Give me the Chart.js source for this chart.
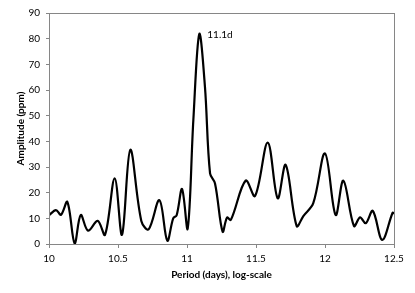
<!DOCTYPE html>
<html>
<head>
<meta charset="utf-8">
<script src="https://cdn.jsdelivr.net/npm/chart.js@4/dist/chart.umd.min.js"></script>
<style>
html,body{margin:0;padding:0;background:#fff;}
#wrap{width:415px;height:293px;position:relative;}
</style>
</head>
<body>
<div id="wrap"><canvas id="c" width="415" height="293"></canvas></div>
<script>
const periods = [10.000,10.050,10.087,10.133,10.186,10.230,10.283,10.353,10.406,10.476,10.529,10.589,10.669,10.722,10.800,10.857,10.900,10.925,10.964,11.005,11.046,11.089,11.130,11.167,11.203,11.258,11.290,11.318,11.425,11.493,11.585,11.657,11.715,11.795,11.843,11.915,12.000,12.077,12.133,12.210,12.254,12.295,12.346,12.415,12.490,12.500];
const amplitude = [11.2,13.2,11.4,16.4,0.2,11.3,5.2,9.0,3.6,25.6,3.6,36.7,9.0,5.7,17.1,1.3,10.0,11.2,21.4,6.0,48.3,81.8,61.3,27.5,23.6,4.8,10.3,9.4,24.7,18.7,39.5,17.8,30.8,7.0,10.9,15.9,35.3,11.3,24.7,7.0,10.4,8.1,12.9,1.6,12.2,11.8];
const peakLabel = "11.1d";
const peakIndex = 21;

const FONT = "Lato, 'Liberation Sans', sans-serif";
const GRAY = "#868686";

const frame = {
  id: 'frame',
  afterDatasetsDraw(chart) {
    const {ctx, chartArea: a} = chart;
    ctx.save();
    ctx.strokeStyle = GRAY;
    ctx.lineWidth = 1;
    ctx.strokeRect(Math.round(a.left)+0.5, Math.round(a.top)+0.5, Math.round(a.right-a.left), Math.round(a.bottom-a.top));
    const x = chart.scales.x.getPixelForValue(periods[peakIndex]);
    const y = chart.scales.y.getPixelForValue(amplitude[peakIndex]);
    ctx.fillStyle = "#000";
    ctx.font = "10px " + FONT;
    ctx.textBaseline = "middle";
    ctx.textAlign = "left";
    ctx.fillText(peakLabel, x + 8, y + 1);
    ctx.restore();
  }
};

new Chart(document.getElementById('c'), {
  type: 'line',
  data: {
    datasets: [{
      data: periods.map((p, i) => ({x: p, y: amplitude[i]})),
      borderColor: '#000',
      borderWidth: 2.2,
      pointRadius: 0,
      tension: 0.35,
      fill: false
    }]
  },
  options: {
    responsive: false,
    animation: false,
    devicePixelRatio: 1,
    layout: {padding: {left: 0, right: 21, top: 13, bottom: 0}},
    plugins: {legend: {display: false}, tooltip: {enabled: false}},
    scales: {
      x: {
        type: 'linear', min: 10, max: 12.5,
        ticks: {stepSize: 0.5, color: '#000', font: {family: FONT, size: 10}, padding: 5,
          callback: v => String(Math.round(v*10)/10)},
        grid: {display: true, drawOnChartArea: false, color: GRAY, tickLength: 4},
        border: {display: true, color: GRAY},
        title: {display: true, text: 'Period (days), log-scale', color: '#000', font: {family: FONT, size: 10, weight: 'bold'}, padding: {top: 0, bottom: 12}},
        afterFit: s => { s.height = 49; }
      },
      y: {
        min: 0, max: 90,
        ticks: {stepSize: 10, color: '#000', font: {family: FONT, size: 10}, padding: 6},
        grid: {display: true, drawOnChartArea: false, color: GRAY, tickLength: 3},
        border: {display: true, color: GRAY},
        title: {display: true, text: 'Amplitude (ppm)', color: '#000', font: {family: FONT, size: 10, weight: 'bold'}, padding: {top: 15, bottom: 0}},
        afterFit: s => { s.width = 49; }
      }
    }
  },
  plugins: [frame]
});
</script>
</body>
</html>
